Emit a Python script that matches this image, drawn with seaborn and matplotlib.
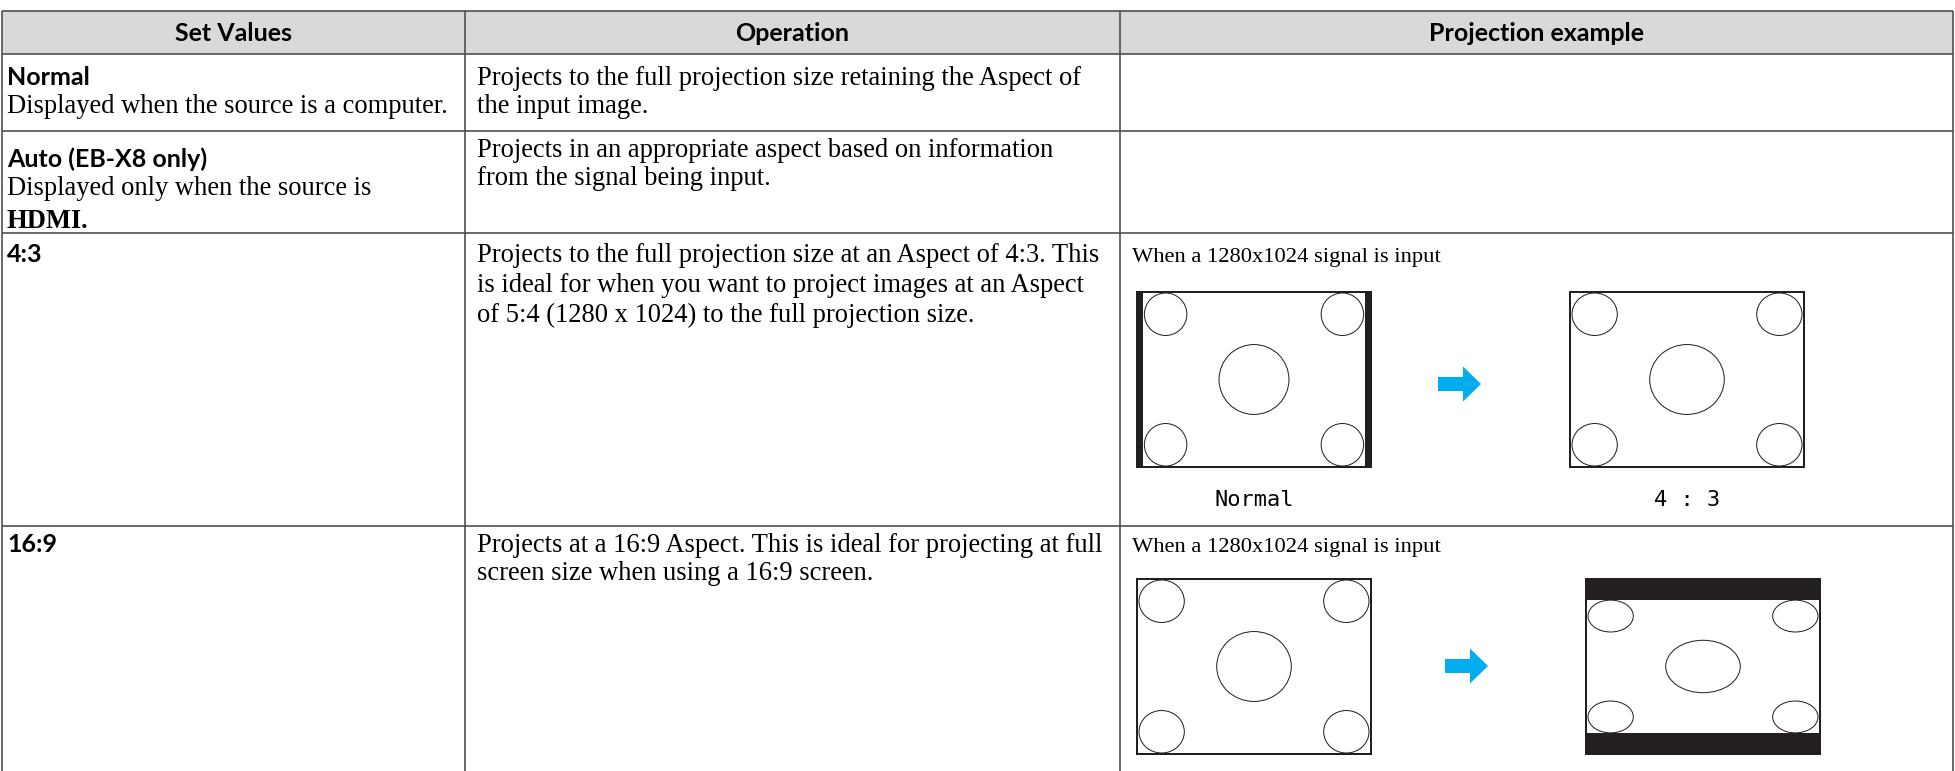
import matplotlib.pyplot as plt
from matplotlib.patches import Rectangle, Ellipse, Polygon
import seaborn as sns

# ---- table content ----
headers = ["Set Values", "Operation", "Projection example"]
set_values = ["Normal", "Auto (EB-X8 only)", "4:3", "16:9"]
set_notes = [
    [("Displayed when the source is a computer.", "normal")],
    [("Displayed only when the source is", "normal"), ("HDMI.", "bold")],
    [],
    [],
]
operations = [
    ["Projects to the full projection size retaining the Aspect of",
     "the input image."],
    ["Projects in an appropriate aspect based on information",
     "from the signal being input."],
    ["Projects to the full projection size at an Aspect of 4:3. This",
     "is ideal for when you want to project images at an Aspect",
     "of 5:4 (1280 x 1024) to the full projection size."],
    ["Projects at a 16:9 Aspect. This is ideal for projecting at full",
     "screen size when using a 16:9 screen."],
]
example_captions = [None, None,
                    "When a 1280x1024 signal is input",
                    "When a 1280x1024 signal is input"]
# aspect of the picture before / after the change (screen panel is 4:3)
screen_aspect = 4 / 3
source_aspect = 5 / 4
before_aspects = [None, None, 5 / 4, 4 / 3]
after_aspects = [None, None, 4 / 3, 16 / 9]
before_labels = [None, None, "Normal", None]
after_labels = [None, None, "4 : 3", None]

# ---- layout (pixels) ----
W, H = 1955, 771
col_x = [2, 465, 1120, 1953]
row_y = [11, 54, 131, 233, 526, 771]
pad_x = [5, 12, 12]
first_base = [31, 36, 29, 26]
ops_base = [31, 26, 29, 26]
line_gap = [28, 28, 30, 28]
shot_w, shot_h = 236, 177
shot_x = {2: (1136, 1569), 3: (1136, 1585)}
shot_top = {2: 291, 3: 578}
arrow_pos = {2: (1438, 384), 3: (1445, 666)}
label_y = {2: 500}

ink = "#231f20"
grid = "#4a4a4a"
blue = "#00aeef"
px = 72 / 100  # pixel -> point at dpi 100

sns.set_theme(style="white")
plt.rcParams["font.family"] = ["Liberation Serif", "DejaVu Serif"]

fig = plt.figure(figsize=(W / 100, H / 100), dpi=100)
ax = fig.add_axes([0, 0, 1, 1])
ax.set_xlim(0, W)
ax.set_ylim(H, 0)
ax.axis("off")

serif = dict(family=["Liberation Serif"], fontsize=26.5 * px, color="black")
caption = dict(family=["Liberation Serif"], fontsize=22.5 * px, color="black")
sans_b = dict(family=["Lato", "DejaVu Sans"], fontweight="bold", fontsize=25 * px, color="black")
head_b = dict(family=["Lato", "DejaVu Sans"], fontweight="bold", fontsize=25 * px, color="black")

# header band
ax.add_patch(Rectangle((col_x[0], row_y[0]), col_x[-1] - col_x[0], row_y[1] - row_y[0],
                       facecolor="#d9d9d9", edgecolor="none", zorder=0))
for i, h in enumerate(headers):
    ax.text((col_x[i] + col_x[i + 1]) / 2, (row_y[0] + row_y[1]) / 2 + 1, h,
            ha="center", va="center", **head_b)

# grid lines
ax.hlines(row_y[:-1], col_x[0], col_x[-1], color=grid, lw=1.6 * px, zorder=3)
ax.vlines(col_x, row_y[0], row_y[-1], color=grid, lw=1.6 * px, zorder=3)


def draw_screen(x0, y0, aspect):
    t = 2
    ax.add_patch(Rectangle((x0, y0), shot_w, shot_h, facecolor=ink, edgecolor="none", zorder=2))
    if aspect < screen_aspect:
        cw, ch = shot_h * aspect, shot_h
    else:
        cw, ch = shot_w, shot_w / aspect
    cx0 = x0 + (shot_w - cw) / 2
    cy0 = y0 + (shot_h - ch) / 2
    wx0, wy0 = max(cx0, x0 + t), max(cy0, y0 + t)
    wx1, wy1 = min(cx0 + cw, x0 + shot_w - t), min(cy0 + ch, y0 + shot_h - t)
    ax.add_patch(Rectangle((wx0, wy0), wx1 - wx0, wy1 - wy0, facecolor="white",
                           edgecolor="none", zorder=2))
    # circles of the 5:4 source picture, scaled into the shown area
    sx, sy = cw / source_aspect, ch
    dc = 0.24
    dm = 0.395
    cdx, cdy = dc * sx, dc * sy
    for fx in (0, 1):
        for fy in (0, 1):
            ex = wx0 + 1 + cdx / 2 if fx == 0 else wx1 - 1 - cdx / 2
            ey = wy0 + cdy / 2 if fy == 0 else wy1 - cdy / 2
            ax.add_patch(Ellipse((ex, ey), cdx, cdy, facecolor="none",
                                 edgecolor=ink, lw=1.0 * px, zorder=3))
    ax.add_patch(Ellipse((x0 + shot_w / 2, y0 + shot_h / 2), dm * sx, dm * sy,
                         facecolor="none", edgecolor=ink, lw=1.0 * px, zorder=3))


def draw_arrow(x0, yc):
    pts = [(x0, yc - 7), (x0 + 25, yc - 7), (x0 + 25, yc - 17.5), (x0 + 43, yc),
           (x0 + 25, yc + 17.5), (x0 + 25, yc + 7), (x0, yc + 7)]
    ax.add_patch(Polygon(pts, closed=True, facecolor=blue, edgecolor="none", zorder=3))


for r in range(len(set_values)):
    top = row_y[r + 1]
    base = top + first_base[r]
    gap = line_gap[r]
    ax.text(col_x[0] + pad_x[0], base, set_values[r], ha="left", va="baseline", **sans_b)
    for k, (line, wt) in enumerate(set_notes[r]):
        extra = 5 if wt == "bold" else 0
        ax.text(col_x[0] + pad_x[0], base + (k + 1) * gap + extra, line, ha="left",
                va="baseline", family=["Liberation Serif"], fontsize=26.5 * px,
                fontweight=wt, color="black")
    for k, line in enumerate(operations[r]):
        ax.text(col_x[1] + pad_x[1], top + ops_base[r] + k * gap, line, ha="left",
                va="baseline", **serif)
    if example_captions[r]:
        ax.text(col_x[2] + pad_x[2], base, example_captions[r], ha="left",
                va="baseline", **caption)
        xb, xa = shot_x[r]
        y0 = shot_top[r]
        draw_screen(xb, y0, before_aspects[r])
        draw_screen(xa, y0, after_aspects[r])
        draw_arrow(*arrow_pos[r])
        for lab, xs in ((before_labels[r], xb), (after_labels[r], xa)):
            if lab:
                ax.text(xs + shot_w / 2, label_y[r], lab, ha="center", va="center",
                        family=["DejaVu Sans Mono"], fontsize=22 * px, color="black")

fig.savefig("out.png", dpi=100)
